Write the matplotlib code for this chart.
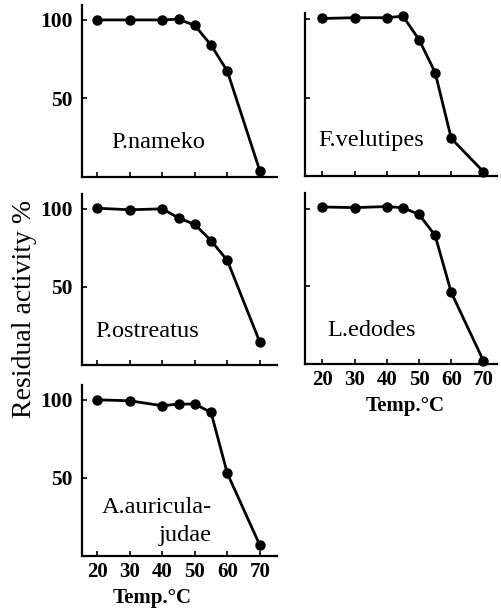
import matplotlib
matplotlib.use("Agg")
import matplotlib.pyplot as plt

# ---- data ----
temps_nameko = [20, 30, 40, 45, 50, 55, 60, 70]
act_nameko = [100, 100, 100, 100.5, 96.5, 84, 67.5, 4]

temps_velutipes = [20, 30, 40, 45, 50, 55, 60, 70]
act_velutipes = [100.5, 101, 101, 102, 87, 66, 24, 2.7]

temps_ostreatus = [20, 30, 40, 45, 50, 55, 60, 70]
act_ostreatus = [100.4, 99.4, 100, 94.2, 90, 79.7, 67, 14.7]

temps_edodes = [20, 30, 40, 45, 50, 55, 60, 70]
act_edodes = [101, 100.6, 101.3, 100.5, 96.2, 82.7, 46, 2]

temps_auricula = [20, 30, 40, 45, 50, 55, 60, 70]
act_auricula = [100, 99.4, 96.2, 97.3, 97.3, 92, 53, 7]

xticks = [20, 30, 40, 50, 60, 70]
xtick_labels = ["20", "30", "40", "50", "60", "70"]
yticks = [50, 100]
ytick_labels = ["50", "100"]

SERIF = ["Liberation Serif", "DejaVu Serif"]
plt.rcParams["font.family"] = SERIF

W, H = 502, 610
fig = plt.figure(figsize=(W / 100, H / 100), dpi=100)


def rect(left, top, right, bottom):
    return [left / W, 1 - bottom / H, (right - left) / W, (bottom - top) / H]


def panel(r, x, y, xlim, ylim, show_ylabels, show_xlabels):
    ax = fig.add_axes(r)
    ax.plot(x, y, "-o", color="black", lw=2.0, ms=6.5, clip_on=False, zorder=3)
    ax.set_xlim(*xlim)
    ax.set_ylim(*ylim)
    for s in ("top", "right"):
        ax.spines[s].set_visible(False)
    for s in ("left", "bottom"):
        ax.spines[s].set_linewidth(1.6)
    ax.set_xticks(xticks)
    ax.set_yticks(yticks)
    ax.tick_params(direction="in", length=3.5, width=1.2)
    ax.tick_params(axis="y", pad=6.5)
    ax.tick_params(axis="x", pad=4.5)
    if show_ylabels:
        ax.set_yticklabels(ytick_labels, fontsize=15.5, fontweight="bold")
    else:
        ax.set_yticklabels([])
    if show_xlabels:
        ax.set_xticklabels(xtick_labels, fontsize=15, fontweight="bold")
    else:
        ax.set_xticklabels([])
    return ax


LX = (15.3, 75.3)
RX = (14.6, 74.2)

ax1 = panel(rect(82, 5, 277, 177), temps_nameko, act_nameko, LX, (0, 109.5), True, False)
ax2 = panel(rect(305, 13, 497, 176), temps_velutipes, act_velutipes, RX, (0, 104), False, False)
ax3 = panel(rect(82, 194, 277, 365), temps_ostreatus, act_ostreatus, LX, (0, 109.5), True, False)
ax4 = panel(rect(305, 193, 497, 364), temps_edodes, act_edodes, RX, (0, 110), False, True)
ax5 = panel(rect(82, 385, 277, 556), temps_auricula, act_auricula, LX, (0, 109.5), True, True)

lab_kw = dict(fontsize=17.5, ha="left", va="baseline")
ax1.text(24.3, 18.4, "P.nameko", **lab_kw)
ax2.text(18.8, 19.0, "F.velutipes", **lab_kw)
ax3.text(19.3, 18.0, "P.ostreatus", **lab_kw)
ax4.text(21.4, 18.0, "L.edodes", **lab_kw)
ax5.text(55.3, 27.8, "A.auricula-", fontsize=17.5, ha="right", va="baseline")
ax5.text(55.3, 9.5, "judae", fontsize=17.5, ha="right", va="baseline")

for ax, xc in ((ax4, 0.52), (ax5, 0.36)):
    ax.set_xlabel("Temp.°C", fontsize=15, fontweight="bold")
    ax.xaxis.label.set_va("top")
    ax.xaxis.set_label_coords(xc, -0.19)

fig.text(25 / W, 1 - 309 / H, "Residual activity %", rotation=90,
         ha="center", va="center", fontsize=20)

fig.savefig("out.png", dpi=100)
